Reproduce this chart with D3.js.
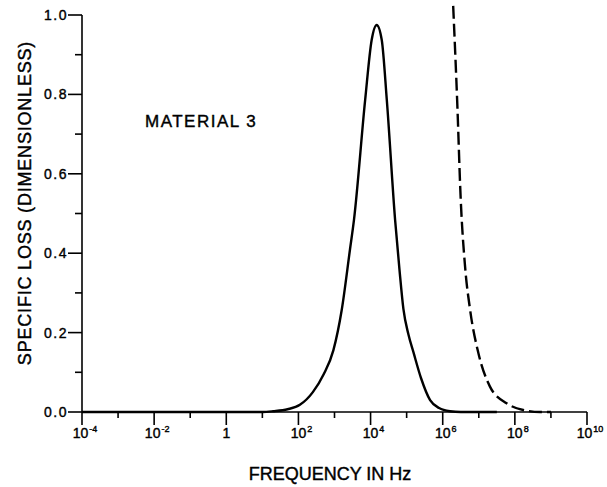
<!DOCTYPE html>
<html>
<head>
	<meta charset="utf-8">
	<title></title>
	<style>
		body { margin: 0; background: #fff; }
		text { font-family: "Liberation Sans", Arial, sans-serif; fill: #000; stroke: #000; stroke-width: 0.4px; }
		.axis line { stroke: #000; stroke-width: 1.6px; }
		.curve { fill: none; stroke: #000; stroke-width: 2.4px; stroke-linejoin: round; }
	</style>
</head>
<body>
	<svg id="container" width="607" height="487"></svg>
</body>
<script src="https://d3js.org/d3.v7.min.js"></script>
<script>
	// log10 of frequency in Hz, and specific loss
	let solidLogF = [-4, 1.0, 1.3, 1.7, 2.04, 2.4, 2.7, 2.97, 3.2, 3.43, 3.54, 3.85, 4.03, 4.17, 4.31, 4.45, 4.68, 4.8, 4.91, 5.05, 5.19, 5.4, 5.65, 5.9, 6.2, 6.5, 7.5]
	let solidLoss = [0, 0, 0.002, 0.007, 0.018, 0.05, 0.095, 0.156, 0.257, 0.41, 0.484, 0.786, 0.937, 0.975, 0.937, 0.786, 0.484, 0.36, 0.26, 0.195, 0.15, 0.085, 0.03, 0.01, 0.002, 0, 0]
	let dashLogF = [6.29, 6.4, 6.5, 6.62, 6.76, 6.99, 7.31, 7.77, 8.23, 8.7, 9.0]
	let dashLoss = [1.023, 0.786, 0.534, 0.366, 0.257, 0.148, 0.064, 0.022, 0.005, 0, 0]

	let xMajor = [-4, -2, 0, 2, 4, 6, 8, 10]
	let xMinor = [-3, -1, 1, 3, 5, 7, 9]
	let yMajor = [0, 0.2, 0.4, 0.6, 0.8, 1.0]
	let yMinor = [0.1, 0.3, 0.5, 0.7, 0.9]

	let svg = d3.select("#container")
	let plotLeft = 82, plotRight = 587, plotTop = 15, plotBottom = 412

	let x = d3.scaleLog().domain([1e-4, 1e10]).range([plotLeft, plotRight])
	let y = d3.scaleLinear().domain([0, 1]).range([plotBottom, plotTop])

	// x axis
	let gx = svg.append("g").attr("class", "axis")
		.attr("transform", `translate(0,${plotBottom})`)
	gx.append("line").attr("x1", plotLeft).attr("x2", plotRight)
	gx.selectAll(".maj").data(xMajor).enter().append("line")
		.attr("x1", d => x(Math.pow(10, d))).attr("x2", d => x(Math.pow(10, d)))
		.attr("y1", 0).attr("y2", 13)
	gx.selectAll(".min").data(xMinor).enter().append("line")
		.attr("x1", d => x(Math.pow(10, d))).attr("x2", d => x(Math.pow(10, d)))
		.attr("y1", 0).attr("y2", 6)
	let xl = gx.selectAll(".lab").data(xMajor).enter().append("text")
		.attr("x", d => x(Math.pow(10, d)) + (d === 0 ? 0 : 3))
		.attr("y", 26)
		.attr("text-anchor", "middle")
		.style("font-size", "14px")
	xl.filter(d => d === 0).text("1")
	xl.filter(d => d !== 0).each(function(d) {
		let t = d3.select(this)
		t.append("tspan").text("10")
		t.append("tspan").attr("dy", -6).attr("dx", 1).style("font-size", "9px").text(d < 0 ? "-" + (-d) : d)
	})

	// y axis
	let gy = svg.append("g").attr("class", "axis")
		.attr("transform", `translate(${plotLeft},0)`)
	gy.append("line").attr("y1", plotTop).attr("y2", plotBottom)
	gy.selectAll(".maj").data(yMajor).enter().append("line")
		.attr("y1", d => y(d)).attr("y2", d => y(d))
		.attr("x1", -14).attr("x2", 0)
	gy.selectAll(".min").data(yMinor).enter().append("line")
		.attr("y1", d => y(d)).attr("y2", d => y(d))
		.attr("x1", -7).attr("x2", 0)
	gy.selectAll(".lab").data(yMajor).enter().append("text")
		.attr("x", -14).attr("y", d => y(d) + 5)
		.attr("text-anchor", "end")
		.style("font-size", "14px").style("letter-spacing", "1.5px")
		.text(d3.format(".1f"))

	// curves
	let line = d3.line()
		.x(d => x(Math.pow(10, d[0])))
		.y(d => y(d[1]))
		.curve(d3.curveMonotoneX)

	svg.append("path").attr("class", "curve")
		.attr("d", line(d3.zip(solidLogF, solidLoss)))
	svg.append("path").attr("class", "curve")
		.attr("stroke-dasharray", "13,5")
		.attr("d", line(d3.zip(dashLogF, dashLoss)))

	// labels
	svg.append("text").attr("x", 145).attr("y", 127)
		.style("font-size", "17px").style("letter-spacing", "1.5px")
		.text("MATERIAL 3")
	svg.append("text").attr("x", 330).attr("y", 480)
		.attr("text-anchor", "middle")
		.style("font-size", "18px")
		.text("FREQUENCY IN Hz")
	svg.append("text")
		.attr("transform", "translate(31,203) rotate(-90)")
		.attr("text-anchor", "middle")
		.style("font-size", "18px").style("letter-spacing", "0.8px")
		.text("SPECIFIC LOSS (DIMENSIONLESS)")
</script>
</html>
